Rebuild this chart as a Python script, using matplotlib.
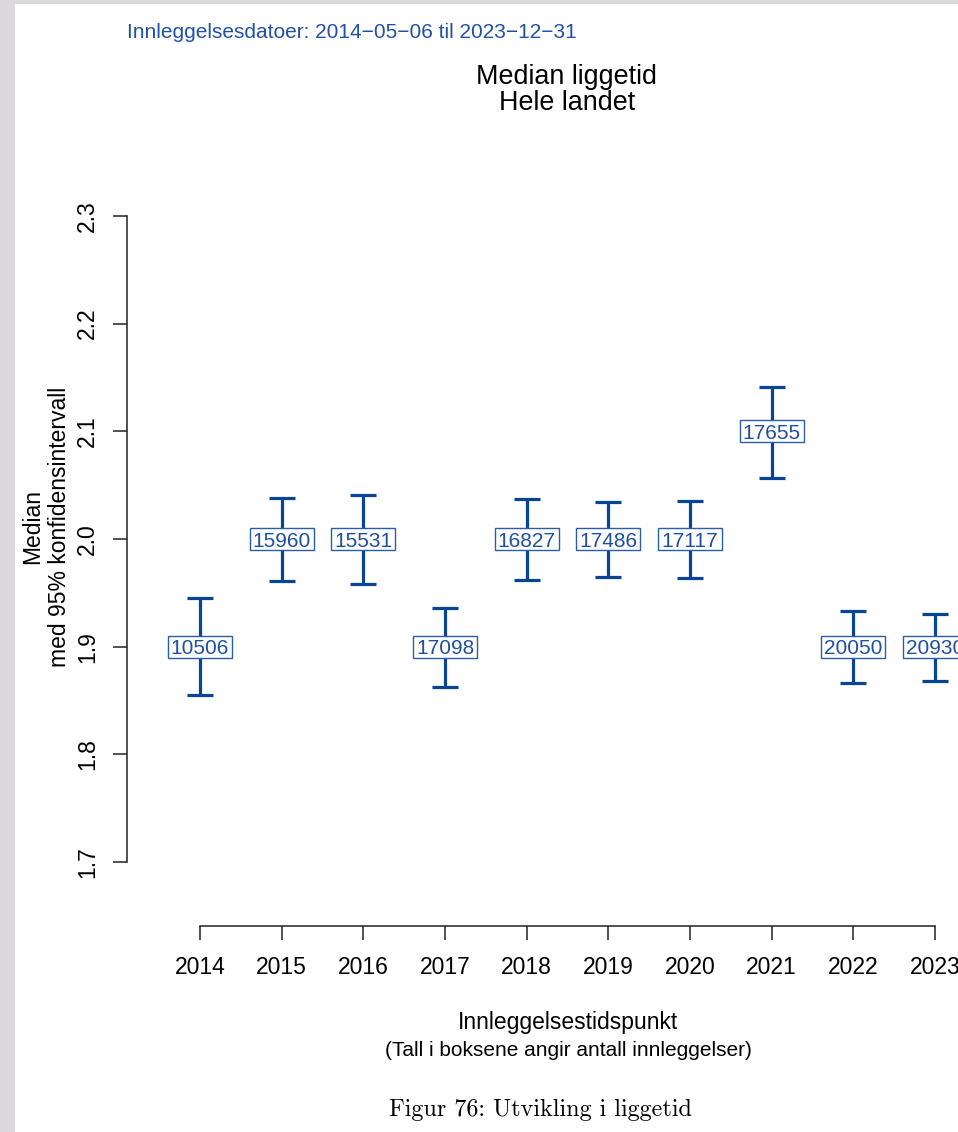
import matplotlib
matplotlib.use("Agg")
import matplotlib.pyplot as plt
from matplotlib.patches import Rectangle

# Data
years = [2014, 2015, 2016, 2017, 2018, 2019, 2020, 2021, 2022, 2023]
median = [1.9, 2.0, 2.0, 1.9, 2.0, 2.0, 2.0, 2.1, 1.9, 1.9]
ci_low = [1.855, 1.961, 1.958, 1.863, 1.962, 1.965, 1.964, 2.057, 1.866, 1.868]
ci_high = [1.945, 2.038, 2.041, 1.936, 2.037, 2.034, 2.035, 2.141, 1.933, 1.930]
counts = [10506, 15960, 15531, 17098, 16827, 17486, 17117, 17655, 20050, 20930]
y_ticks = [1.7, 1.8, 1.9, 2.0, 2.1, 2.2, 2.3]
y_tick_labels = ["1.7", "1.8", "1.9", "2.0", "2.1", "2.2", "2.3"]

BLUE = "#084594"
W, H = 958, 1132
plt.rcParams["font.family"] = ["Liberation Sans", "DejaVu Sans"]

fig = plt.figure(figsize=(W / 100, H / 100), dpi=100)
fig.patch.set_facecolor("#dcd9dc")
# white page
fig.patches.append(Rectangle((15 / W, 0), 1, (H - 4) / H, transform=fig.transFigure,
                             facecolor="white", edgecolor="none", zorder=-5))


def fx(px):
    return px / W


def fy(py):
    return 1 - py / H


ax = fig.add_axes([fx(127), fy(926), fx(958) - fx(127), fy(216) - fy(926)])
ax.set_facecolor("none")
ax.set_zorder(2)
ax.set_xlim(2014 - 73 / 81.67, 2014 + 758 / 81.67)
ax.set_ylim(1.7 - 64 / 1076.67, 2.3)

for s in ("top", "right"):
    ax.spines[s].set_visible(False)
ax.spines["left"].set_bounds(1.7, 2.3)
ax.spines["bottom"].set_bounds(2014, 2023)
for s in ("left", "bottom"):
    ax.spines[s].set_linewidth(1.1)
    ax.spines[s].set_color("#222222")

ax.set_xticks(years)
ax.set_xticklabels([str(y) for y in years], fontsize=16.5)
ax.set_yticks(y_ticks)
ax.set_yticklabels(y_tick_labels, fontsize=16.5, rotation=90, va="center")
ax.tick_params(axis="both", length=10, width=1.1, color="#222222")
ax.tick_params(axis="x", pad=11.5)
ax.tick_params(axis="y", pad=10)

yerr = [[m - lo for m, lo in zip(median, ci_low)], [hi - m for m, hi in zip(median, ci_high)]]
ax.errorbar(years, median, yerr=yerr, fmt="none", ecolor=BLUE, elinewidth=2.3,
            capsize=9.5, capthick=2.3, clip_on=False, zorder=2)

bw, bh = 64 / 81.67, 22 / 1076.67
for x, m, n in zip(years, median, counts):
    ax.add_patch(Rectangle((x - bw / 2, m - bh / 2), bw, bh, facecolor="white",
                           edgecolor="#2a5da8", lw=1.0, zorder=3, clip_on=False))
    ax.text(x, m, str(n), ha="center", va="center_baseline", fontsize=15,
            color="#1f4f9e", zorder=4, clip_on=False)

fig.text(fx(127), fy(32), "Innleggelsesdatoer: 2014\u221205\u221206 til 2023\u221212\u221231",
         color="#2050a8", fontsize=15, ha="left", va="center")
fig.text(fx(567), fy(77), "Median liggetid", fontsize=19.4, ha="center", va="center")
fig.text(fx(567), fy(103), "Hele landet", fontsize=19.4, ha="center", va="center")
fig.text(fx(33), fy(527), "Median", fontsize=16.5, rotation=90, ha="center", va="center")
fig.text(fx(60), fy(527), "med 95% konfidensintervall", fontsize=16.5, rotation=90,
         ha="center", va="center")
fig.text(fx(568), fy(1022), "Innleggelsestidspunkt", fontsize=16.5, ha="center", va="center")
fig.text(fx(568), fy(1051), "(Tall i boksene angir antall innleggelser)", fontsize=15,
         ha="center", va="center")
fig.text(fx(540), fy(1110), "Figur 76: Utvikling i liggetid", fontsize=17.4, family="cmr10",
         ha="center", va="center")

fig.savefig("out.png", dpi=100)
